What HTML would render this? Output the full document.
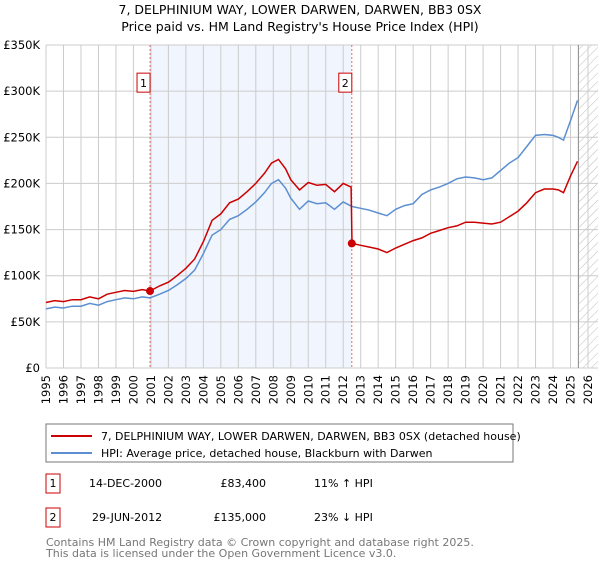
<!DOCTYPE html>
<html><head><meta charset="utf-8"><style>
body{margin:0;width:600px;height:560px;background:#fff;font-family:"DejaVu Sans","Liberation Sans",sans-serif;overflow:hidden}
svg text{font-family:"DejaVu Sans","Liberation Sans",sans-serif}
</style></head><body>
<svg id="c" width="600" height="560">
<defs><pattern id="hatch" width="6" height="6" patternUnits="userSpaceOnUse" patternTransform="rotate(45)"><line x1="0" y1="0" x2="0" y2="6" stroke="#bbb" stroke-width="1"/></pattern></defs>
<text x="300" y="14" text-anchor="middle" font-size="12.5">7, DELPHINIUM WAY, LOWER DARWEN, DARWEN, BB3 0SX</text>
<text x="300" y="31" text-anchor="middle" font-size="12.5">Price paid vs. HM Land Registry's House Price Index (HPI)</text>
<g id="grid"></g><g id="marks"></g>
<rect x="46" y="424" width="467" height="38" fill="#fff" stroke="#777"/>
<line x1="51" y1="436" x2="92" y2="436" stroke="#cc0000" stroke-width="2"/>
<text x="101" y="440" font-size="11">7, DELPHINIUM WAY, LOWER DARWEN, DARWEN, BB3 0SX (detached house)</text>
<line x1="51" y1="453" x2="92" y2="453" stroke="#5b8fd1" stroke-width="2"/>
<text x="101" y="457" font-size="11">HPI: Average price, detached house, Blackburn with Darwen</text>
<g font-size="11">
<rect x="46" y="474" width="14" height="19" fill="#fff" stroke="#cc0000"/>
<text x="53" y="487" text-anchor="middle">1</text>
<text x="89" y="487">14-DEC-2000</text>
<text x="266" y="487" text-anchor="end">£83,400</text>
<text x="314" y="487">11% ↑ HPI</text>
<rect x="46" y="508" width="14" height="19" fill="#fff" stroke="#cc0000"/>
<text x="53" y="521" text-anchor="middle">2</text>
<text x="92" y="521">29-JUN-2012</text>
<text x="266" y="521" text-anchor="end">£135,000</text>
<text x="314" y="521">23% ↓ HPI</text>
</g>
<text x="46" y="546" font-size="11" fill="#777">Contains HM Land Registry data © Crown copyright and database right 2025.</text>
<text x="46" y="557" font-size="11" fill="#777">This data is licensed under the Open Government Licence v3.0.</text>
</svg>
<script>
const yTicks=[0,50,100,150,200,250,300,350];
const yTickLabels=["£0","£50K","£100K","£150K","£200K","£250K","£300K","£350K"];
const xYears=[1995,1996,1997,1998,1999,2000,2001,2002,2003,2004,2005,2006,2007,2008,2009,2010,2011,2012,2013,2014,2015,2016,2017,2018,2019,2020,2021,2022,2023,2024,2025,2026];
const hpiT=[1995,1995.5,1996,1996.5,1997,1997.5,1998,1998.5,1999,1999.5,2000,2000.5,2000.95,2001.5,2002,2002.5,2003,2003.5,2004,2004.5,2005,2005.5,2006,2006.5,2007,2007.5,2007.9,2008.3,2008.7,2009,2009.5,2010,2010.5,2011,2011.5,2012,2012.5,2013,2013.5,2014,2014.5,2015,2015.5,2016,2016.5,2017,2017.5,2018,2018.5,2019,2019.5,2020,2020.5,2021,2021.5,2022,2022.5,2023,2023.5,2024,2024.3,2024.6,2025,2025.4];
const hpiV=[64,66,65,67,67,70,68,72,74,76,75,77,76,80,84,90,97,106,124,144,150,161,165,172,180,190,200,204,195,184,172,181,178,179,172,180,175,173,171,168,165,172,176,178,188,193,196,200,205,207,206,204,206,214,222,228,240,252,253,252,250,247,268,290];
const ppT=[1995,1995.5,1996,1996.5,1997,1997.5,1998,1998.5,1999,1999.5,2000,2000.5,2000.95,2001.5,2002,2002.5,2003,2003.5,2004,2004.5,2005,2005.5,2006,2006.5,2007,2007.5,2007.9,2008.3,2008.7,2009,2009.5,2010,2010.5,2011,2011.5,2012,2012.45,2012.5,2013,2013.5,2014,2014.5,2015,2015.5,2016,2016.5,2017,2017.5,2018,2018.5,2019,2019.5,2020,2020.5,2021,2021.5,2022,2022.5,2023,2023.5,2024,2024.3,2024.6,2025,2025.4];
const ppV=[71,73,72,74,74,77,75,80,82,84,83,85,83.4,89,93,100,108,118,137,160,167,179,183,191,200,211,222,226,216,204,193,201,198,199,191,200,196,135,133,131,129,125,130,134,138,141,146,149,152,154,158,158,157,156,158,164,170,179,190,194,194,193,190,208,224];
const sales=[[2000.95,83.4,"1"],[2012.49,135,"2"]];
const X=t=>46+(t-1995)*(542/31), Y=v=>368-v*(323/350);
const NS="http://www.w3.org/2000/svg";
const grid=document.getElementById('grid'),marks=document.getElementById('marks');
function mk(p,tag,a){const e=document.createElementNS(NS,tag);for(const k in a)e.setAttribute(k,a[k]);p.appendChild(e);return e;}
let sh=mk(grid,'rect',{x:X(2000.95),y:Y(350),width:X(2012.49)-X(2000.95),height:Y(0)-Y(350),fill:'#eef3fc',opacity:0.8});


let ht=mk(grid,'rect',{x:X(2025.5),y:Y(350),width:598-X(2025.5),height:Y(0)-Y(350),fill:'url(#hatch)'});


xYears.forEach(yr=>{
 const l=mk(grid,'line',{x1:X(yr),x2:X(yr),y1:Y(350),y2:Y(0),stroke:'#ccc','stroke-width':1});
 
 
 const t=mk(grid,'text',{x:0,y:0,'font-size':11.5,transform:`translate(${X(yr)+4},${Y(0)+7}) rotate(-90)`,'text-anchor':'end'});
 t.textContent=yr;
 
 
});
yTicks.forEach((v,i)=>{
 const l=mk(grid,'line',{x1:46,x2:598,y1:Y(v),y2:Y(v),stroke:'#ccc','stroke-width':1});
 
 
 const t=mk(grid,'text',{x:40,y:Y(v)+4,'font-size':11.5,'text-anchor':'end'});
 t.textContent=yTickLabels[i];
 
 
});
let nl=mk(grid,'line',{x1:X(2025.45),x2:X(2025.45),y1:Y(350),y2:Y(0),stroke:'#888','stroke-width':1});


sales.forEach(s=>{
 const l=mk(marks,'line',{x1:X(s[0]),x2:X(s[0]),y1:Y(350),y2:Y(0),stroke:'#e66','stroke-width':1,'stroke-dasharray':'2,2'});
 
 
});
const path=(T,V)=>T.map((t,i)=>(i?'L':'M')+X(t).toFixed(1)+','+Y(V[i]).toFixed(1)).join('');
let hp=mk(marks,'path',{d:path(hpiT,hpiV),fill:'none',stroke:'#5b8fd1','stroke-width':1.5});


let pp=mk(marks,'path',{d:path(ppT,ppV),fill:'none',stroke:'#cc0000','stroke-width':1.5});


sales.forEach(s=>{
 const c=mk(marks,'circle',{cx:X(s[0]),cy:Y(s[1]),r:4,fill:'#cc0000'});
 
 
 const b=mk(marks,'rect',{x:X(s[0])-13,y:Y(300)-18,width:13,height:19,fill:'#fff',stroke:'#cc0000'});
 
 
 const t=mk(marks,'text',{x:X(s[0])-6.5,y:Y(300)-4,'font-size':11,'text-anchor':'middle'});
 t.textContent=s[2];
 
 
});
</script>
</body></html>
